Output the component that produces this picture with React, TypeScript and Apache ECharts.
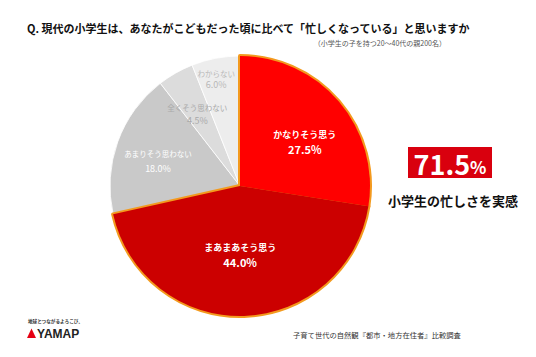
import React, { useEffect, useRef } from "react";
import * as echarts from "echarts";

const categories = ["かなりそう思う", "まあまあそう思う", "あまりそう思わない", "全くそう思わない", "わからない"];
const values = [27.5, 44.0, 18.0, 4.5, 6.0];
const sliceColors = ["#ff0000", "#cc0000", "#c9c9c9", "#dcdcdc", "#ededed"];
const isRed = [true, true, false, false, false];
const labelOffsets = [[13, 0], [-2, 1], [-18, -2], [-9, -13], [-11, -40]];
const labelColors = ["#ffffff", "#ffffff", "#ffffff", "#a9a9a9", "#b8b8b8"];
const labelNameSizes = [9, 9, 7.5, 7.5, 7.5];
const labelValueSizes = [11, 11, 9, 9, 9];
const labelLineHeights = [15, 15, 15, 13, 11];

const titleText = "Q. 現代の小学生は、あなたがこどもだった頃に比べて「忙しくなっている」と思いますか";
const subtitleText = "（小学生の子を持つ20〜40代の親200名）";
const highlightValue = "71.5";
const highlightCaption = "小学生の忙しさを実感";
const sourceText = "子育て世代の自然観『都市・地方在住者』比較調査";
const brandTagline = "地球とつながるよろこび。";
const brandName = "YAMAP";

const FONT = "'Noto Sans CJK JP', 'Noto Sans', sans-serif";
const ORANGE = "#f39a1e";
const CENTER = [240, 186];
const R = 130;

export default function App() {
  const ref = useRef<HTMLDivElement>(null);
  useEffect(() => {
    const chart = echarts.init(ref.current!, null, { renderer: "svg" });

    const baseData = categories.map((name, i) => ({ name, value: values[i] }));

    const grayData = baseData.map((d, i) => ({
      ...d,
      itemStyle: isRed[i]
        ? { color: "rgba(0,0,0,0)", borderWidth: 0 }
        : { color: sliceColors[i], borderColor: "#ffffff", borderWidth: 0.8 },
      label: isRed[i]
        ? { show: false }
        : {
            show: true,
            position: "inside",
            offset: labelOffsets[i],
            color: labelColors[i],
            lineHeight: labelLineHeights[i],
            rich: {
              n: { fontSize: labelNameSizes[i], color: labelColors[i], fontFamily: FONT, lineHeight: labelLineHeights[i] },
              v: { fontSize: labelValueSizes[i], color: labelColors[i], fontFamily: FONT, lineHeight: labelLineHeights[i] },
            },
          },
    }));

    const orangeData = baseData.map((d, i) => ({
      ...d,
      itemStyle: isRed[i]
        ? { color: ORANGE, borderColor: ORANGE, borderWidth: 4 }
        : { color: "rgba(0,0,0,0)", borderWidth: 0 },
    }));

    const redData = baseData.map((d, i) => ({
      ...d,
      itemStyle: isRed[i]
        ? { color: sliceColors[i], borderWidth: 0 }
        : { color: "rgba(0,0,0,0)", borderWidth: 0 },
      label: isRed[i]
        ? {
            show: true,
            position: "inside",
            offset: labelOffsets[i],
            color: labelColors[i],
            rich: {
              n: { fontSize: labelNameSizes[i], fontWeight: "bold", color: "#fff", fontFamily: FONT, lineHeight: labelLineHeights[i] },
              v: { fontSize: labelValueSizes[i], fontWeight: "bold", color: "#fff", fontFamily: FONT, lineHeight: labelLineHeights[i] },
            },
          }
        : { show: false },
    }));

    const fmt = (p: any) => `{n|${p.name}}\n{v|${Number(p.value).toFixed(1)}%}`;

    const common = {
      type: "pie",
      center: CENTER,
      radius: [0, R],
      startAngle: 90,
      clockwise: true,
      silent: true,
      labelLine: { show: false },
      emphasis: { disabled: true },
    };

    chart.setOption({
      animation: false,
      backgroundColor: "#ffffff",
      series: [
        { ...common, z: 1, data: grayData, label: { formatter: fmt } },
        { ...common, z: 2, data: orangeData, label: { show: false } },
        { ...common, z: 3, data: redData, label: { formatter: fmt } },
      ],
      graphic: [
        {
          type: "text",
          left: 27,
          top: 22,
          style: { text: titleText, fontSize: 11, fontWeight: "bold", fill: "#111", fontFamily: FONT },
        },
        {
          type: "text",
          x: 446,
          y: 43,
          style: { text: subtitleText, fontSize: 7, fill: "#555", fontFamily: FONT, textAlign: "right", textVerticalAlign: "middle" },
        },
        {
          type: "rect",
          shape: { x: 408, y: 147, width: 84, height: 31 },
          style: { fill: "#d9000e" },
        },
        {
          type: "text",
          x: 450,
          y: 163,
          style: {
            text: `{a|${highlightValue}}{b|%}`,
            textAlign: "center",
            textVerticalAlign: "middle",
            rich: {
              a: { fontSize: 27, fontWeight: "bold", fill: "#fff", color: "#fff", fontFamily: FONT },
              b: { fontSize: 17, fontWeight: "bold", fill: "#fff", color: "#fff", fontFamily: FONT, padding: [6, 0, 0, 0] },
            },
          },
        },
        {
          type: "text",
          x: 453,
          y: 200,
          style: { text: highlightCaption, fontSize: 13, fontWeight: "bold", fill: "#111", fontFamily: FONT, textAlign: "center", textVerticalAlign: "middle" },
        },
        {
          type: "text",
          x: 293,
          y: 335,
          style: { text: sourceText, fontSize: 7.3, fill: "#333", fontFamily: FONT, textVerticalAlign: "middle" },
        },
        {
          type: "text",
          x: 28,
          y: 321,
          style: { text: brandTagline, fontSize: 4.6, fontWeight: "bold", fill: "#333", fontFamily: FONT, textVerticalAlign: "middle" },
        },
        {
          type: "polygon",
          shape: { points: [[27, 338], [31.5, 328.5], [36, 338]] },
          style: { fill: "#e60012" },
        },
        {
          type: "text",
          x: 37,
          y: 333.5,
          style: { text: brandName, fontSize: 12, fontWeight: "bold", fill: "#222", fontFamily: "'Liberation Sans', Arial, sans-serif", textVerticalAlign: "middle" },
        },
      ],
    });
    return () => chart.dispose();
  }, []);
  return <div ref={ref} style={{ position: "fixed", left: 0, top: 0, width: 536, height: 357 }} />;
}
